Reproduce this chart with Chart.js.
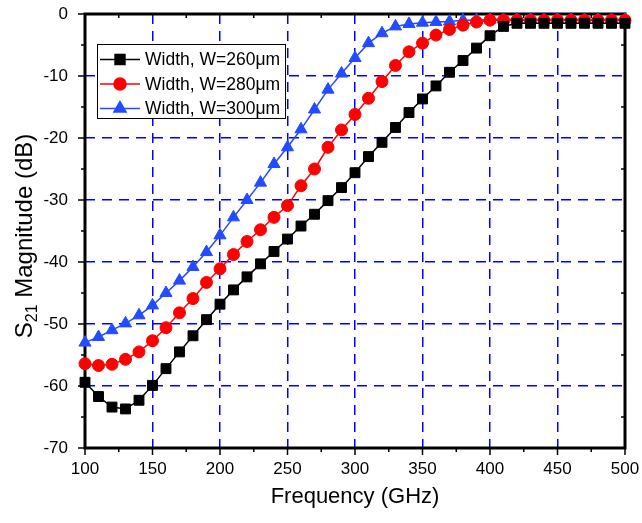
<!DOCTYPE html>
<html lang="en">
<head>
    <meta charset="UTF-8" />
    <title>S21 Magnitude vs Frequency</title>
    <script src="https://cdn.jsdelivr.net/npm/chart.js"></script>
    <style>
        body { margin: 0; background: #fff; }
        #chart { display: block; }
    </style>
</head>
<body>
    <canvas id="chart" width="642" height="523"></canvas>

    <script>
        // data (GHz / dB)
        const frequency = [100, 110, 120, 130, 140, 150, 160, 170, 180, 190,
                           200, 210, 220, 230, 240, 250, 260, 270, 280, 290,
                           300, 310, 320, 330, 340, 350, 360, 370, 380, 390,
                           400, 410, 420, 430, 440, 450, 460, 470, 480, 490, 500];

        const w260 = [-59.4, -61.7, -63.4, -63.7, -62.3, -59.9, -57.2, -54.5, -51.9, -49.3,
                      -46.8, -44.5, -42.4, -40.3, -38.3, -36.3, -34.2, -32.3, -30.1, -28.0,
                      -25.6, -23.0, -20.7, -18.3, -15.9, -13.7, -11.6, -9.4, -7.5, -5.5,
                      -3.5, -2.0, -1.5, -1.5, -1.5, -1.5, -1.5, -1.5, -1.5, -1.5, -1.5];

        const w280 = [-56.4, -56.7, -56.5, -55.7, -54.5, -52.7, -50.6, -48.2, -45.9, -43.3,
                      -41.1, -38.8, -36.7, -34.8, -32.8, -30.9, -27.7, -25.0, -21.5, -18.7,
                      -16.2, -13.6, -10.9, -8.3, -6.1, -4.7, -3.4, -2.5, -1.8, -1.3,
                      -1.0, -1.0, -1.0, -1.0, -1.0, -1.0, -1.0, -1.0, -1.0, -1.0, -1.0];

        const w300 = [-53.0, -52.1, -51.0, -49.9, -48.6, -47.0, -45.0, -43.0, -40.8, -38.4,
                      -35.7, -32.8, -30.0, -27.2, -24.2, -21.5, -18.6, -15.4, -12.2, -9.6,
                      -7.1, -4.7, -3.1, -2.0, -1.6, -1.4, -1.3, -1.2, -1.0, -1.0,
                      -0.9, -0.9, -0.9, -0.9, -0.9, -0.9, -0.9, -0.9, -0.9, -0.9, -0.9];

        const seriesLabels = ['Width, W=260\u03bcm', 'Width, W=280\u03bcm', 'Width, W=300\u03bcm'];
        const xTicks = [100, 150, 200, 250, 300, 350, 400, 450, 500];
        const yTicks = [0, -10, -20, -30, -40, -50, -60, -70];

        const FONT = "'Liberation Sans', Arial, sans-serif";
        const BLUE_GRID = '#0000ff';

        const toPoints = arr => arr.map((v, i) => ({ x: frequency[i], y: v }));

        // frame, tick marks and axis titles
        const framePlugin = {
            id: 'frame',
            beforeDatasetsDraw(chart) {
                const { ctx, chartArea: a, scales: { x, y } } = chart;
                ctx.save();
                ctx.strokeStyle = '#000';
                ctx.lineWidth = 1.5;
                ctx.beginPath();
                xTicks.forEach(v => {
                    const px = x.getPixelForValue(v);
                    ctx.moveTo(px, a.bottom); ctx.lineTo(px, a.bottom + 7);
                });
                yTicks.forEach(v => {
                    const py = y.getPixelForValue(v);
                    ctx.moveTo(a.left, py); ctx.lineTo(a.left - 7, py);
                });
                // minor ticks
                for (let v = 125; v < 500; v += 50) {
                    const px = x.getPixelForValue(v);
                    ctx.moveTo(px, a.bottom); ctx.lineTo(px, a.bottom + 4);
                    ctx.moveTo(px, a.top); ctx.lineTo(px, a.top + 4);
                }
                for (let v = -5; v > -70; v -= 10) {
                    const py = y.getPixelForValue(v);
                    ctx.moveTo(a.left, py); ctx.lineTo(a.left - 4, py);
                    ctx.moveTo(a.right, py); ctx.lineTo(a.right - 4, py);
                }
                ctx.stroke();

                ctx.lineWidth = 3;
                ctx.strokeRect(a.left, a.top, a.right - a.left, a.bottom - a.top);

                // x title
                ctx.fillStyle = '#000';
                ctx.font = `22px ${FONT}`;
                ctx.textAlign = 'center';
                ctx.textBaseline = 'middle';
                ctx.fillText('Frequency (GHz)', (a.left + a.right) / 2, 497);

                // y title with subscript
                ctx.translate(32, 236);
                ctx.rotate(-Math.PI / 2);
                const big = `24px ${FONT}`, small = `16px ${FONT}`;
                ctx.font = big;
                const wS = ctx.measureText('S').width;
                const wRest = ctx.measureText(' Magnitude (dB)').width;
                ctx.font = small;
                const wSub = ctx.measureText('21').width;
                let xx = -(wS + wSub + wRest) / 2;
                ctx.textAlign = 'left';
                ctx.textBaseline = 'alphabetic';
                ctx.font = big;
                ctx.fillText('S', xx, 0); xx += wS;
                ctx.font = small;
                ctx.fillText('21', xx, 5); xx += wSub;
                ctx.font = big;
                ctx.fillText(' Magnitude (dB)', xx, 0);
                ctx.restore();
            }
        };

        const legendPlugin = {
            id: 'legendBox',
            afterDatasetsDraw(chart) {
                const ctx = chart.ctx;
                const left = 97, top = 44, w = 188, h = 74;
                ctx.save();
                ctx.fillStyle = '#fff';
                ctx.fillRect(left, top, w, h);
                ctx.strokeStyle = '#000';
                ctx.lineWidth = 1;
                ctx.strokeRect(left + 0.5, top + 0.5, w, h);
                chart.data.datasets.forEach((ds, i) => {
                    const cy = 59.5 + i * 24.5;
                    ctx.strokeStyle = ds.borderColor;
                    ctx.lineWidth = 1.5;
                    ctx.beginPath();
                    ctx.moveTo(100, cy); ctx.lineTo(140, cy);
                    ctx.stroke();
                    ctx.fillStyle = ds.pointBackgroundColor;
                    Chart.helpers.drawPoint(ctx, {
                        pointStyle: ds.pointStyle, radius: ds.pointRadius, borderWidth: 1, rotation: 0
                    }, 120, cy);
                    ctx.fillStyle = '#000';
                    ctx.font = `17.5px ${FONT}`;
                    ctx.textAlign = 'left';
                    ctx.textBaseline = 'middle';
                    ctx.fillText(ds.label, 145, cy + 1);
                });
                ctx.restore();
            }
        };

        const gridColor = ctx => {
            const v = ctx.tick && ctx.tick.value;
            const s = ctx.scale;
            return (v === s.min || v === s.max) ? 'rgba(0,0,0,0)' : BLUE_GRID;
        };

        new Chart(document.getElementById('chart').getContext('2d'), {
            type: 'line',
            data: {
                datasets: [
                    {
                        label: seriesLabels[0], data: toPoints(w260),
                        borderColor: '#000', backgroundColor: '#000', pointBackgroundColor: '#000',
                        pointStyle: 'rect', pointRadius: 7, borderWidth: 1.5, pointBorderWidth: 1
                    },
                    {
                        label: seriesLabels[1], data: toPoints(w280),
                        borderColor: '#ff0000', backgroundColor: '#ff0000', pointBackgroundColor: '#ff0000',
                        pointStyle: 'circle', pointRadius: 6, borderWidth: 1.5, pointBorderWidth: 1
                    },
                    {
                        label: seriesLabels[2], data: toPoints(w300),
                        borderColor: 'rgb(35,75,255)', backgroundColor: 'rgb(35,75,255)', pointBackgroundColor: 'rgb(35,75,255)',
                        pointStyle: 'triangle', pointRadius: 7, borderWidth: 1.5, pointBorderWidth: 1
                    }
                ]
            },
            options: {
                responsive: false,
                animation: false,
                clip: false,
                layout: { padding: { top: 14, right: 17, left: 0, bottom: 0 } },
                plugins: { legend: { display: false }, tooltip: { enabled: false } },
                scales: {
                    x: {
                        type: 'linear', min: 100, max: 500,
                        afterBuildTicks: s => { s.ticks = xTicks.map(v => ({ value: v })); },
                        afterFit: s => { s.height = 75; s.paddingLeft = 0; s.paddingRight = 0; },
                        ticks: { color: '#000', font: { size: 17, family: FONT }, padding: 11, maxRotation: 0 },
                        grid: { color: gridColor, lineWidth: 1.5, drawTicks: false },
                        border: { display: false, dash: [10, 7] }
                    },
                    y: {
                        min: -70, max: 0,
                        afterBuildTicks: s => { s.ticks = yTicks.map(v => ({ value: v })); },
                        afterFit: s => { s.width = 85; s.paddingTop = 0; s.paddingBottom = 0; },
                        ticks: { color: '#000', font: { size: 17, family: FONT }, padding: 17 },
                        grid: { color: gridColor, lineWidth: 1.5, drawTicks: false },
                        border: { display: false, dash: [10, 7] }
                    }
                }
            },
            plugins: [framePlugin, legendPlugin]
        });
    </script>
</body>
</html>
